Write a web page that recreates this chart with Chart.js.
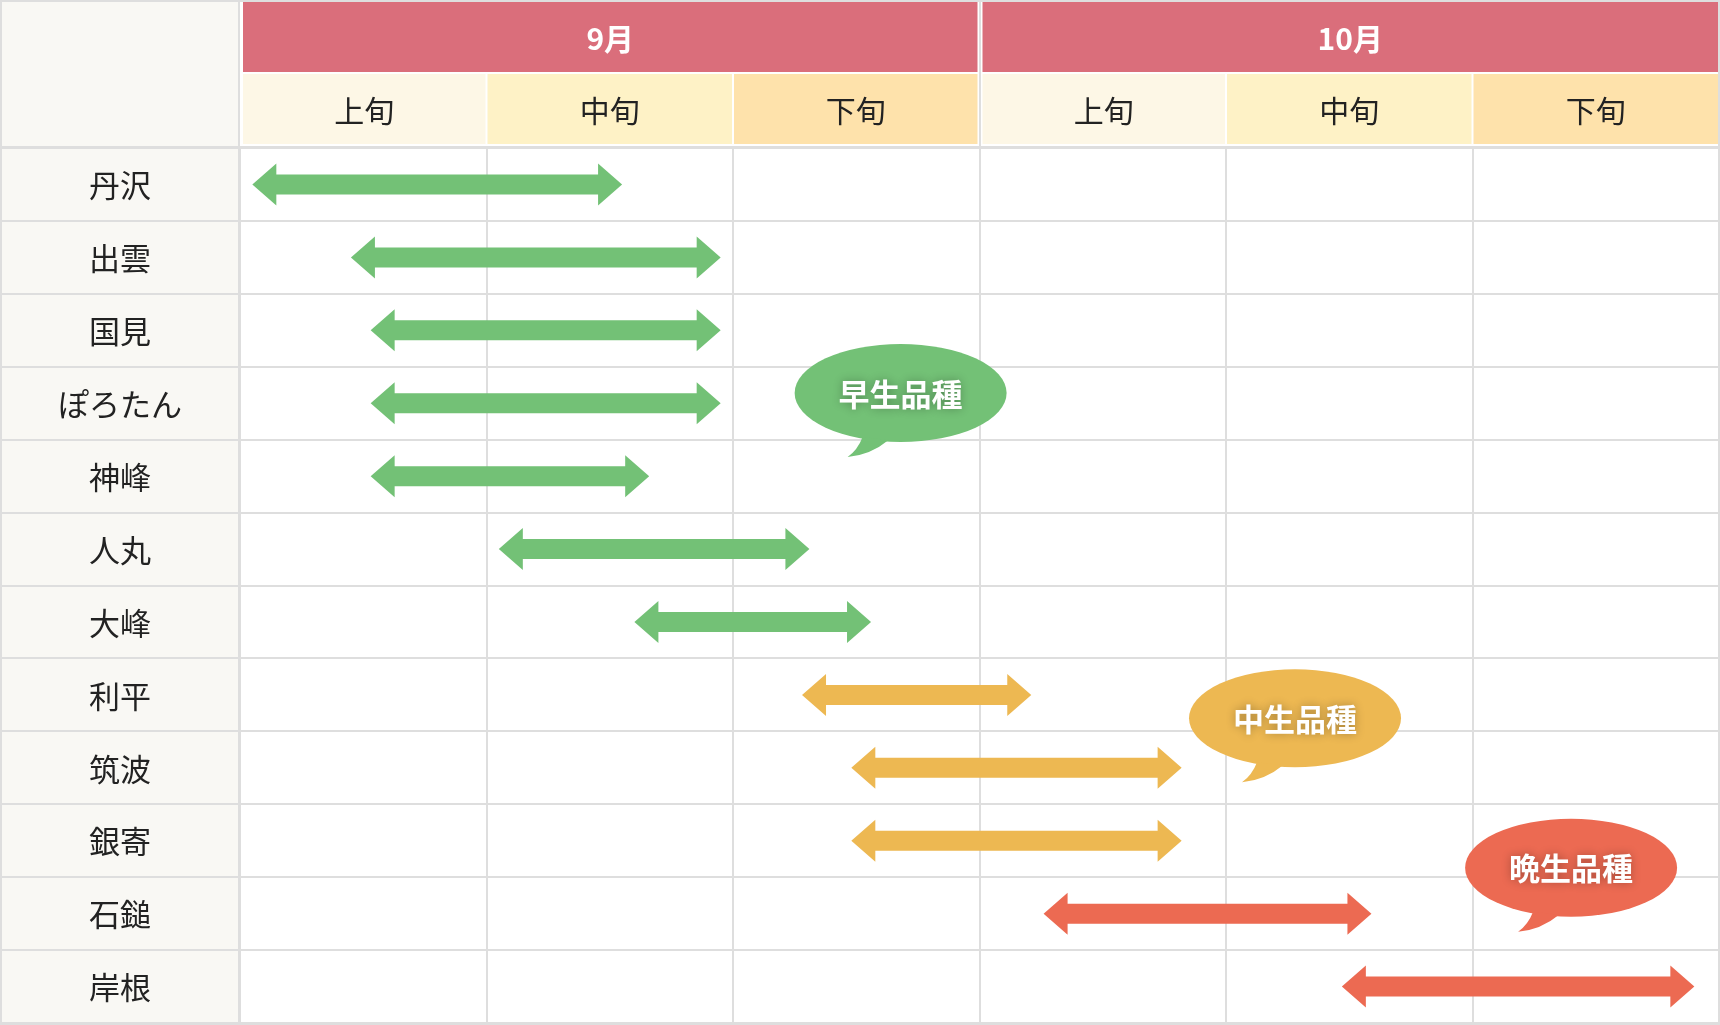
<!DOCTYPE html>
<html lang="ja">
<head>
<meta charset="utf-8">
<title>栗の収穫時期</title>
<script src="https://cdn.jsdelivr.net/npm/chart.js@4.4.1/dist/chart.umd.min.js"></script>
<style>
  html, body { margin: 0; padding: 0; background: #fff; }
  canvas { display: block; }
</style>
</head>
<body>
<canvas id="calendar" width="1720" height="1025"></canvas>
<script>
// 品種
var varieties = ['丹沢', '出雲', '国見', 'ぽろたん', '神峰', '人丸', '大峰', '利平', '筑波', '銀寄', '石鎚', '岸根'];
// 収穫時期（旬単位、0 = 9月上旬の始め、6 = 10月下旬の終わり）
var harvestStart = [0.05, 0.45, 0.53, 0.53, 0.53, 1.05, 1.6, 2.28, 2.48, 2.48, 3.26, 4.47];
var harvestEnd = [1.55, 1.95, 1.95, 1.95, 1.66, 2.31, 2.56, 3.21, 3.82, 3.82, 4.59, 5.9];
// 0 = 早生, 1 = 中生, 2 = 晩生
var varietyGroup = [0, 0, 0, 0, 0, 0, 0, 1, 1, 1, 2, 2];
var groupNames = ['早生品種', '中生品種', '晩生品種'];
var months = ['9月', '10月'];
var periods = ['上旬', '中旬', '下旬'];

var groupColors = ['#73c176', '#edb852', '#ec6a52'];
var periodColors = ['#fdf7e6', '#fef2c6', '#fee2ab'];
var gridColor = '#dedede';
var font = '"Noto Sans CJK JP", "Noto Sans", sans-serif';

/* =================================================================
    background, header, label column, bubbles
================================================================= */

var tablePlugin = {
    id: 'table',
    beforeDraw: function (chart) {
        var ctx = chart.ctx;
        ctx.save();
        ctx.fillStyle = '#ffffff';
        ctx.fillRect(0, 0, chart.width, chart.height);
        ctx.fillStyle = '#f9f8f4';
        ctx.fillRect(0, 0, chart.chartArea.left, chart.height);
        ctx.restore();
    },
    afterDatasetsDraw: function (chart) {
        var ctx = chart.ctx;
        var meta = chart.getDatasetMeta(0);
        meta.data.forEach(function (bar, i) {
            var p = bar.getProps(['x', 'base', 'y'], true);
            var x0 = Math.min(p.x, p.base), x1 = Math.max(p.x, p.base), y = p.y;
            var head = 24, hh = 21, sh = 10;
            ctx.save();
            ctx.fillStyle = groupColors[varietyGroup[i]];
            ctx.beginPath();
            ctx.moveTo(x0, y);
            ctx.lineTo(x0 + head, y - hh);
            ctx.lineTo(x0 + head, y - sh);
            ctx.lineTo(x1 - head, y - sh);
            ctx.lineTo(x1 - head, y - hh);
            ctx.lineTo(x1, y);
            ctx.lineTo(x1 - head, y + hh);
            ctx.lineTo(x1 - head, y + sh);
            ctx.lineTo(x0 + head, y + sh);
            ctx.lineTo(x0 + head, y + hh);
            ctx.closePath();
            ctx.fill();
            ctx.restore();
        });
    },
    afterDraw: function (chart, args, opts) {
        var ctx = chart.ctx;
        var xs = chart.scales.x, ys = chart.scales.y;
        var area = chart.chartArea;
        var W = chart.width, H = chart.height;
        ctx.save();

        // header
        ctx.fillStyle = '#ffffff';
        ctx.fillRect(area.left, 0, W - area.left, area.top);
        ctx.textAlign = 'center';
        ctx.textBaseline = 'middle';
        months.forEach(function (m, mi) {
            var a = xs.getPixelForValue(mi * 3) + 3;
            var b = mi === months.length - 1 ? W - 2 : xs.getPixelForValue(mi * 3 + 3) - 2;
            ctx.fillStyle = '#da6e7b';
            ctx.fillRect(a, 2, b - a, 70);
            ctx.fillStyle = '#ffffff';
            ctx.font = 'bold 30px ' + font;
            ctx.fillText(m, (a + b) / 2, 39);
            periods.forEach(function (p, pi) {
                var j = mi * 3 + pi;
                var c = pi === 0 ? a : xs.getPixelForValue(j) + 1;
                var d = pi === 2 ? b : xs.getPixelForValue(j + 1) - 1;
                ctx.fillStyle = periodColors[pi];
                ctx.fillRect(c, 74, d - c, 70);
                ctx.fillStyle = '#222222';
                ctx.font = '30px ' + font;
                ctx.fillText(p, (c + d) / 2, 111);
            });
        });

        // lines of header and label column
        ctx.fillStyle = gridColor;
        ctx.fillRect(0, 0, W, 2);
        ctx.fillRect(Math.round(area.left) - 2, 0, 2, H);
        ctx.fillRect(Math.round(xs.getPixelForValue(3)) - 1, 0, 2, area.top);
        for (var i = 0; i <= varieties.length; i++) {
            var yb = Math.round(ys.getPixelForValue(i - 0.5));
            ctx.fillRect(0, yb - 1, area.left, 2);
        }
        ctx.fillRect(0, Math.round(area.top) - 2, W, 2);

        // outer border
        ctx.fillRect(0, 0, 2, H);
        ctx.fillRect(W - 2, 0, 2, H);
        ctx.fillRect(0, H - 3, W, 3);

        // row labels
        ctx.fillStyle = '#222222';
        ctx.font = '31px ' + font;
        varieties.forEach(function (v, i) {
            ctx.fillText(v, area.left / 2, ys.getPixelForValue(i) + 1);
        });

        // speech bubbles
        opts.bubbles.forEach(function (bb) {
            var cx = xs.getPixelForValue(bb.x), cy = ys.getPixelForValue(bb.y);
            var rx = 106, ry = 49;
            ctx.fillStyle = groupColors[bb.group];
            ctx.beginPath();
            ctx.ellipse(cx, cy, rx, ry, 0, 0, Math.PI * 2);
            ctx.fill();
            ctx.beginPath();
            ctx.moveTo(cx - 38, cy + 44);
            ctx.quadraticCurveTo(cx - 43, cy + 57, cx - 53, cy + 64);
            ctx.quadraticCurveTo(cx - 30, cy + 62, cx - 12, cy + 47);
            ctx.closePath();
            ctx.fill();
            ctx.save();
            ctx.shadowColor = 'rgba(0,0,0,0.3)';
            ctx.shadowBlur = 10;
            ctx.fillStyle = '#ffffff';
            ctx.font = 'bold 31px ' + font;
            ctx.fillText(groupNames[bb.group], cx, cy + 1);
            ctx.restore();
        });

        ctx.restore();
    }
};

/* =================================================================
    Chart
================================================================= */

var ctx = document.getElementById('calendar');

var data = {
    labels: varieties,
    datasets: [{
        data: harvestStart.map(function (s, i) { return [s, harvestEnd[i]]; }),
        backgroundColor: 'rgba(0,0,0,0)',
        borderWidth: 0
    }]
};

var myChart = new Chart(ctx, {
    type: 'bar',
    data: data,
    plugins: [tablePlugin],
    options: {
        indexAxis: 'y',
        responsive: false,
        animation: false,
        devicePixelRatio: 1,
        layout: { padding: { left: 240, top: 148, right: 1, bottom: 2 } },
        plugins: {
            legend: { display: false },
            tooltip: { enabled: false },
            table: {
                bubbles: [
                    { group: 0, x: 2.68, y: 2.86 },
                    { group: 1, x: 4.28, y: 7.32 },
                    { group: 2, x: 5.4, y: 9.37 }
                ]
            }
        },
        scales: {
            x: {
                type: 'linear',
                position: 'top',
                min: 0,
                max: 6,
                ticks: { display: false, stepSize: 1 },
                grid: { color: gridColor, lineWidth: 2, drawTicks: false },
                border: { display: false }
            },
            y: {
                ticks: { display: false },
                grid: { color: gridColor, lineWidth: 2, drawTicks: false },
                border: { display: false }
            }
        }
    }
});
</script>
</body>
</html>
